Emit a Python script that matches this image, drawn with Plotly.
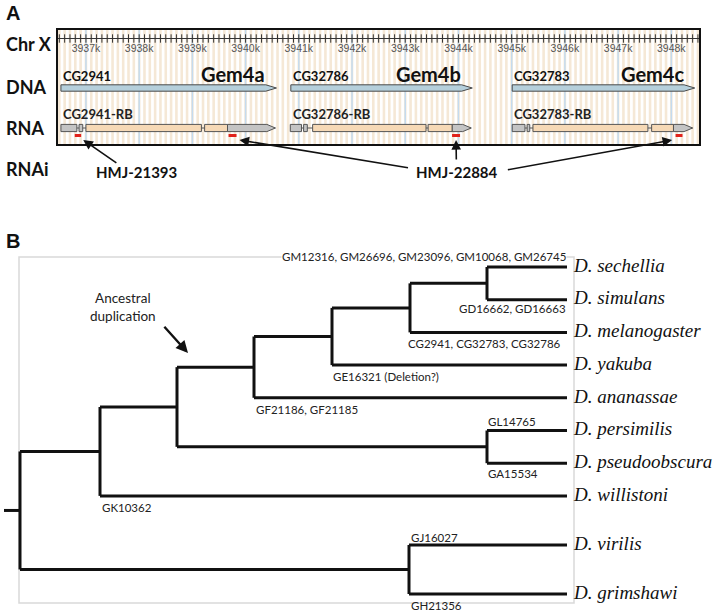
import plotly.graph_objects as go

W, H = 714, 611

# ---------------- Panel A data ----------------
kb_ticks = [3937, 3938, 3939, 3940, 3941, 3942, 3943, 3944, 3945, 3946, 3947, 3948]
gene_ids = ["CG2941", "CG32786", "CG32783"]
gene_names = ["Gem4a", "Gem4b", "Gem4c"]
gene_start = [3936.53, 3940.85, 3945.01]
gene_end = [3940.58, 3944.26, 3948.44]

transcript_ids = ["CG2941-RB", "CG32786-RB", "CG32783-RB"]
exon_start = [
    [3936.53, 3936.87, 3937.00, 3939.23, 3939.66],
    [3940.84, 3941.09, 3941.26, 3943.43, 3943.88],
    [3945.01, 3945.29, 3945.40, 3947.63, 3948.04],
]
exon_end = [
    [3936.83, 3936.94, 3939.17, 3939.66, 3940.56],
    [3941.05, 3941.16, 3943.39, 3943.88, 3944.24],
    [3945.25, 3945.34, 3947.56, 3948.04, 3948.40],
]
exon_kind = [
    ["UTR", "UTR", "CDS", "CDS", "UTR"],
    ["UTR", "UTR", "CDS", "CDS", "UTR"],
    ["UTR", "UTR", "CDS", "CDS", "UTR"],
]
rnai_start = [3936.79, 3939.68, 3943.88, 3948.08]
rnai_end = [3936.91, 3939.83, 3944.03, 3948.21]
rnai_amplicon = ["HMJ-21393", "HMJ-22884", "HMJ-22884", "HMJ-22884"]

# ---------------- Panel B data ----------------
species = ["D. sechellia", "D. simulans", "D. melanogaster", "D. yakuba", "D. ananassae",
           "D. persimilis", "D. pseudoobscura", "D. willistoni", "D. virilis", "D. grimshawi"]
species_row = [0, 1, 2, 3, 4, 5, 6, 7, 8.5, 10]
tip_depth = 547
# (node name, depth, children)
tree = ("root", 0, [
    ("n1", 80, [
        ("n2", 157, [
            ("n3", 234, [
                ("n4", 312, [
                    ("n5", 390, [
                        ("n6", 467, ["D. sechellia", "D. simulans"]),
                        "D. melanogaster"]),
                    "D. yakuba"]),
                "D. ananassae"]),
            ("n7", 467, ["D. persimilis", "D. pseudoobscura"])]),
        "D. willistoni"]),
    ("n8", 389, ["D. virilis", "D. grimshawi"]),
])
gene_label_text = ["GM12316, GM26696, GM23096, GM10068, GM26745", "GD16662, GD16663",
                   "CG2941, CG32783, CG32786", "GE16321 (Deletion?)", "GF21186, GF21185",
                   "GL14765", "GA15534", "GK10362", "GJ16027", "GH21356"]

# ---------------- figure ----------------
fig = go.Figure()
CAL = "Lato"

# ---- panel A geometry (track rows, in pixel-like y units) ----
Y_RULER, Y_DNA, Y_RNA, Y_RNAI = 38.5, 88, 128, 135.5
Y_TOP, Y_BOT = 30, 144
x_lo, x_hi = 3936.475, 3948.52

# background stripes every 0.1 kb
sx, sy = [], []
k = 0
while 3936.5 + k * 0.1 < x_hi:
    xv = round(3936.5 + k * 0.1, 2)
    sx += [xv, xv, None]
    sy += [Y_TOP, Y_BOT, None]
    k += 1
fig.add_trace(go.Scatter(x=sx, y=sy, mode="lines", line=dict(color="#f5e8d6", width=2.6),
                         hoverinfo="skip", showlegend=False, xaxis="x", yaxis="y"))
# kb lines
bx, by = [], []
for t in kb_ticks:
    bx += [t, t, None]
    by += [Y_TOP, Y_BOT, None]
fig.add_trace(go.Scatter(x=bx, y=by, mode="lines", line=dict(color="#c4dbef", width=1.5),
                         hoverinfo="skip", showlegend=False, xaxis="x", yaxis="y"))
# ruler
fig.add_trace(go.Scatter(x=[x_lo, x_hi], y=[Y_RULER, Y_RULER], mode="lines",
                         line=dict(color="#333", width=1), hoverinfo="skip", showlegend=False,
                         xaxis="x", yaxis="y"))
rt = [round(3936.5 + i * 0.1, 2) for i in range(121)]
fig.add_trace(go.Scatter(x=rt, y=[Y_RULER] * len(rt), mode="markers",
                         marker=dict(symbol="line-ns", size=6, line=dict(color="#333", width=1)),
                         hoverinfo="skip", showlegend=False, xaxis="x", yaxis="y"))
fig.add_trace(go.Scatter(x=kb_ticks, y=[49.5] * len(kb_ticks), mode="text",
                         text=[f"{t}k" for t in kb_ticks],
                         textfont=dict(family="Liberation Sans", size=10.5, color="#555"),
                         hoverinfo="skip", showlegend=False, xaxis="x", yaxis="y"))


def poly(s, e, yc, h, tip=0.0):
    if tip > 0:
        return [s, e - tip, e, e - tip, s, s, None], [yc - h, yc - h, yc, yc + h, yc + h, yc - h, None]
    return [s, e, e, s, s, None], [yc - h, yc - h, yc + h, yc + h, yc - h, None]


# DNA arrows
dx, dy = [], []
for s, e in zip(gene_start, gene_end):
    px_, py_ = poly(s, e, Y_DNA, 3.2, 0.2)
    dx += px_
    dy += py_
fig.add_trace(go.Scatter(x=dx, y=dy, mode="lines", fill="toself", fillcolor="#b5cfdb",
                         line=dict(color="#4a4a4a", width=1), hoverinfo="skip", showlegend=False,
                         xaxis="x", yaxis="y"))

# intron lines
ix, iy = [], []
for st, en in zip(exon_start, exon_end):
    ix += [st[0], en[-1], None]
    iy += [Y_RNA, Y_RNA, None]
fig.add_trace(go.Scatter(x=ix, y=iy, mode="lines", line=dict(color="#555", width=1),
                         hoverinfo="skip", showlegend=False, xaxis="x", yaxis="y"))

# exons
for kind, color in [("UTR", "#c4c4c4"), ("CDS", "#f6d9b6")]:
    ex, ey = [], []
    for st, en, kd in zip(exon_start, exon_end, exon_kind):
        for j, (s, e, kk) in enumerate(zip(st, en, kd)):
            if kk != kind:
                continue
            tip = 0.16 if j == len(st) - 1 else 0.0
            px_, py_ = poly(s, e, Y_RNA, 3.6, tip)
            ex += px_
            ey += py_
    fig.add_trace(go.Scatter(x=ex, y=ey, mode="lines", fill="toself", fillcolor=color,
                             line=dict(color="#555", width=1), hoverinfo="skip", showlegend=False,
                             xaxis="x", yaxis="y"))

# RNAi amplicons
rx, ry = [], []
for s, e in zip(rnai_start, rnai_end):
    rx += [s, e, None]
    ry += [Y_RNAI, Y_RNAI, None]
fig.add_trace(go.Scatter(x=rx, y=ry, mode="lines", line=dict(color="#e0221c", width=3),
                         hoverinfo="skip", showlegend=False, xaxis="x", yaxis="y"))

ann = []
# gene & transcript labels
for gid, gname, s, e, tid in zip(gene_ids, gene_names, gene_start, gene_end, transcript_ids):
    ann.append(dict(x=s, y=76, xref="x", yref="y", text=f"<b>{gid}</b>", showarrow=False,
                    xanchor="left", yanchor="middle", font=dict(family=CAL, size=13, color="#111")))
    ann.append(dict(x=e - 0.17, y=74, xref="x", yref="y", text=f"<b>{gname}</b>", showarrow=False,
                    xanchor="right", yanchor="middle", font=dict(family=CAL, size=20, color="#111")))
    ann.append(dict(x=s, y=114, xref="x", yref="y", text=f"<b>{tid}</b>", showarrow=False,
                    xanchor="left", yanchor="middle", font=dict(family=CAL, size=13, color="#222")))

# left track labels
for lab, yv in [("Chr X", 44), ("DNA", 87), ("RNA", 128), ("RNAi", 169)]:
    ann.append(dict(x=4 / W, y=1 - yv / H, xref="paper", yref="paper", text=f"<b>{lab}</b>",
                    showarrow=False, xanchor="left", yanchor="middle",
                    font=dict(family=CAL, size=18, color="#111")))
ann.append(dict(x=4 / W, y=1 - 13 / H, xref="paper", yref="paper", text="<b>A</b>", showarrow=False,
                xanchor="left", yanchor="middle", font=dict(family="Liberation Sans", size=20, color="#111")))
ann.append(dict(x=4 / W, y=1 - 241 / H, xref="paper", yref="paper", text="<b>B</b>", showarrow=False,
                xanchor="left", yanchor="middle", font=dict(family="Liberation Sans", size=20, color="#111")))

# RNAi labels and arrows
ann.append(dict(x=3937.95, y=1 - 172 / H, xref="x", yref="paper", text="<b>HMJ-21393</b>",
                showarrow=False, xanchor="center", yanchor="middle",
                font=dict(family=CAL, size=15, color="#111")))
ann.append(dict(x=3943.98, y=1 - 172 / H, xref="x", yref="paper", text="<b>HMJ-22884</b>",
                showarrow=False, xanchor="center", yanchor="middle",
                font=dict(family=CAL, size=15, color="#111")))
head_dx = [0.1, 0.13, 0.0, -0.13]
tails = [(3937.6, 164), (3943.08, 168), (3943.96, 161), (3944.9, 170)]
for s, e, hdx, (tx, ty) in zip(rnai_start, rnai_end, head_dx, tails):
    hx = (s + e) / 2 + hdx
    ann.append(dict(x=hx, y=140, xref="x", yref="y", ax=tx, ay=ty, axref="x", ayref="y",
                    text="", showarrow=True, arrowhead=2, arrowsize=1.2, arrowwidth=1.6,
                    arrowcolor="#111"))

# ---------------- Panel B ----------------
row_of = dict(zip(species, species_row))
tx_, ty_ = [], []
node_pos = {}


def walk(node):
    if isinstance(node, str):
        return tip_depth, row_of[node]
    name, depth, children = node
    ys = []
    for c in children:
        cx, cy = walk(c)
        tx_.extend([depth, cx, None])
        ty_.extend([cy, cy, None])
        ys.append(cy)
    tx_.extend([depth, depth, None])
    ty_.extend([min(ys), max(ys), None])
    yc = (min(ys) + max(ys)) / 2
    node_pos[name] = (depth, yc)
    return depth, yc


rx0, ry0 = walk(tree)
tx_.extend([rx0 - 16, rx0, None])
ty_.extend([ry0, ry0, None])

fig.add_trace(go.Scatter(x=tx_, y=ty_, mode="lines", line=dict(color="#111", width=3),
                         hoverinfo="skip", showlegend=False, xaxis="x2", yaxis="y2"))
fig.add_trace(go.Scatter(x=[tip_depth + 7] * len(species), y=species_row, mode="text",
                         text=species, textposition="middle right",
                         textfont=dict(family="Liberation Serif", size=19, color="#111", style="italic"),
                         hoverinfo="skip", showlegend=False, xaxis="x2", yaxis="y2", cliponaxis=False))

# gene labels in tree (anchor x, y, xanchor)
gl_pos = [(tip_depth, -0.31, "right"), (tip_depth, 1.28, "right"), (387, 2.35, "left"),
          (312, 3.36, "left"), (235, 4.37, "left"), (467, 4.74, "left"), (467, 6.3, "left"),
          (81, 7.37, "left"), (390, 8.26, "left"), (390, 10.34, "left")]
for txt, (gx, gy, xa) in zip(gene_label_text, gl_pos):
    ann.append(dict(x=gx, y=gy, xref="x2", yref="y2", text=txt, showarrow=False, xanchor=xa,
                    yanchor="middle", bgcolor="white" if gy < 0 else None, borderpad=0,
                    font=dict(family=CAL, size=11.5, color="#222")))

ann.append(dict(x=103, y=1.22, xref="x2", yref="y2", text="Ancestral<br>duplication", showarrow=False,
                yanchor="middle", font=dict(family=CAL, size=13.5, color="#222")))
ann.append(dict(x=168, y=2.63, xref="x2", yref="y2", ax=143, ay=1.78, axref="x2", ayref="y2",
                text="", showarrow=True, arrowhead=2, arrowsize=1, arrowwidth=2.4, arrowcolor="#111"))

shapes = [dict(type="rect", xref="x2", yref="y2", x0=-1, x1=554, y0=-0.306, y1=10.275,
               line=dict(color="#d9d9d9", width=1.5), layer="below")]

fig.update_layout(
    width=W, height=H, margin=dict(l=0, r=0, t=0, b=0),
    paper_bgcolor="white", plot_bgcolor="rgba(0,0,0,0)",
    annotations=ann, shapes=shapes,
    xaxis=dict(domain=[58 / W, 699 / W], range=[x_lo, x_hi], showline=True, mirror=True,
               linecolor="#111", linewidth=1.5, showgrid=False, zeroline=False,
               showticklabels=False, ticks=""),
    yaxis=dict(domain=[1 - Y_BOT / H, 1 - Y_TOP / H], range=[Y_BOT, Y_TOP], showline=True, mirror=True,
               linecolor="#111", linewidth=1.5, showgrid=False, zeroline=False,
               showticklabels=False, ticks=""),
    xaxis2=dict(domain=[0, 1], range=[-20, 694], visible=False),
    yaxis2=dict(domain=[0, 1 - 240 / H], range=[(611 - 267) / 32.7, (240 - 267) / 32.7], visible=False),
)

fig.write_html("out.html", config={"displayModeBar": False},
               post_script="document.body.style.margin='0';document.body.style.padding='0';")
